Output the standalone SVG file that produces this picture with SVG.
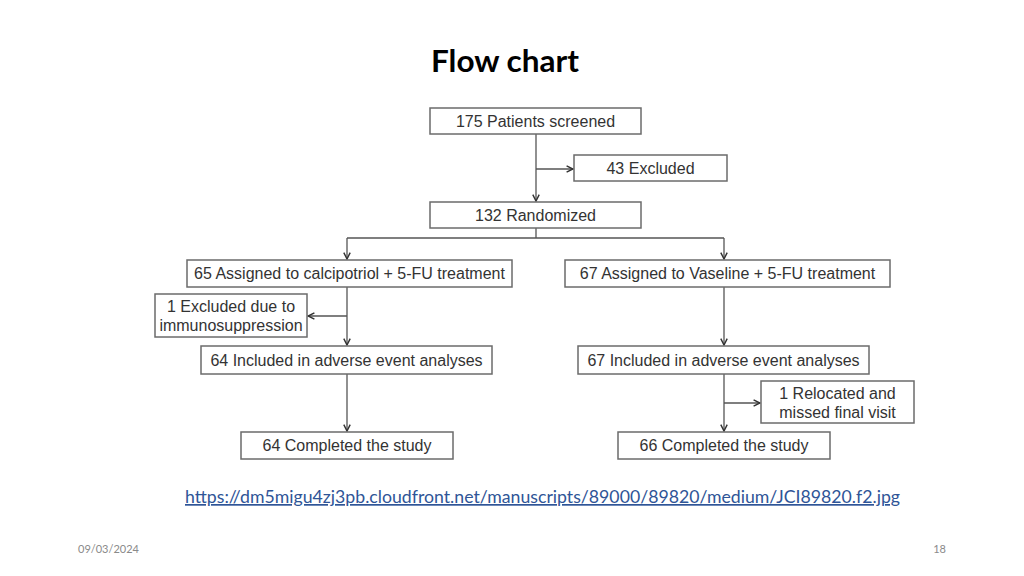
<svg xmlns="http://www.w3.org/2000/svg" width="1024" height="576" viewBox="0 0 1024 576">
<style>
.box{fill:#fff;stroke:#6b6b6b;stroke-width:1.5}
.t{font-family:"Liberation Sans",Arial,sans-serif;font-size:16px;fill:#333;text-anchor:middle}
.ln{fill:none;stroke:#555;stroke-width:1.3}
</style>
<defs>
<marker id="ah" viewBox="0 0 10 10" refX="9" refY="5" markerWidth="8" markerHeight="8" markerUnits="userSpaceOnUse" orient="auto">
<path d="M1,1 L9,5 L1,9" fill="none" stroke="#333" stroke-width="1.8"/>
</marker>
</defs>
<rect width="1024" height="576" fill="#fff"/>
<text x="505" y="72" font-family="Lato,'Open Sans',sans-serif" font-weight="bold" font-size="30" fill="#000" text-anchor="middle" textLength="148" lengthAdjust="spacingAndGlyphs">Flow chart</text>
<g id="connectors">
<path class="ln" d="M536,134 V201" marker-end="url(#ah)"/>
<path class="ln" d="M536,169 H573" marker-end="url(#ah)"/>
<path class="ln" d="M536,228 V238 M347,238 H724"/>
<path class="ln" d="M347,238 V259" marker-end="url(#ah)"/>
<path class="ln" d="M724,238 V259" marker-end="url(#ah)"/>
<path class="ln" d="M347,287 V345" marker-end="url(#ah)"/>
<path class="ln" d="M347,316 H308" marker-end="url(#ah)"/>
<path class="ln" d="M724,287 V345" marker-end="url(#ah)"/>
<path class="ln" d="M347,374 V431" marker-end="url(#ah)"/>
<path class="ln" d="M724,374 V431" marker-end="url(#ah)"/>
<path class="ln" d="M724,403 H760" marker-end="url(#ah)"/>
</g>
<g id="n1"><rect class="box" x="430" y="108" width="211" height="26"/><text class="t" x="535.5" y="127">175 Patients screened</text></g>
<g id="n2"><rect class="box" x="574" y="155" width="153" height="26"/><text class="t" x="650.5" y="174">43 Excluded</text></g>
<g id="n3"><rect class="box" x="430" y="202" width="211" height="26"/><text class="t" x="535.5" y="221">132 Randomized</text></g>
<g id="n4"><rect class="box" x="187" y="260" width="325" height="27"/><text class="t" x="349.5" y="279">65 Assigned to calcipotriol + 5-FU treatment</text></g>
<g id="n5"><rect class="box" x="565" y="260" width="325" height="27"/><text class="t" x="727.5" y="279">67 Assigned to Vaseline + 5-FU treatment</text></g>
<g id="n6"><rect class="box" x="155" y="294" width="152" height="43"/><text class="t" x="231" y="312">1 Excluded due to</text><text class="t" x="231" y="331">immunosuppression</text></g>
<g id="n7"><rect class="box" x="201" y="346" width="291" height="28"/><text class="t" x="346.5" y="366">64 Included in adverse event analyses</text></g>
<g id="n8"><rect class="box" x="578" y="346" width="291" height="28"/><text class="t" x="723.5" y="366">67 Included in adverse event analyses</text></g>
<g id="n9"><rect class="box" x="761" y="381" width="153" height="42"/><text class="t" x="837.5" y="399">1 Relocated and</text><text class="t" x="837.5" y="418">missed final visit</text></g>
<g id="n10"><rect class="box" x="241" y="432" width="212" height="27"/><text class="t" x="347" y="451">64 Completed the study</text></g>
<g id="n11"><rect class="box" x="618" y="432" width="212" height="27"/><text class="t" x="724" y="451">66 Completed the study</text></g>
<text x="185" y="503" font-family="Lato,'Open Sans',sans-serif" font-size="17" fill="#2F5597" textLength="715" lengthAdjust="spacingAndGlyphs" text-decoration="underline">https://dm5migu4zj3pb.cloudfront.net/manuscripts/89000/89820/medium/JCI89820.f2.jpg</text>
<text x="78" y="553" font-family="Lato,'Open Sans',sans-serif" font-size="11" fill="#8a8a8a">09/03/2024</text>
<text x="946" y="553" font-family="Lato,'Open Sans',sans-serif" font-size="11" fill="#8a8a8a" text-anchor="end">18</text>
</svg>
